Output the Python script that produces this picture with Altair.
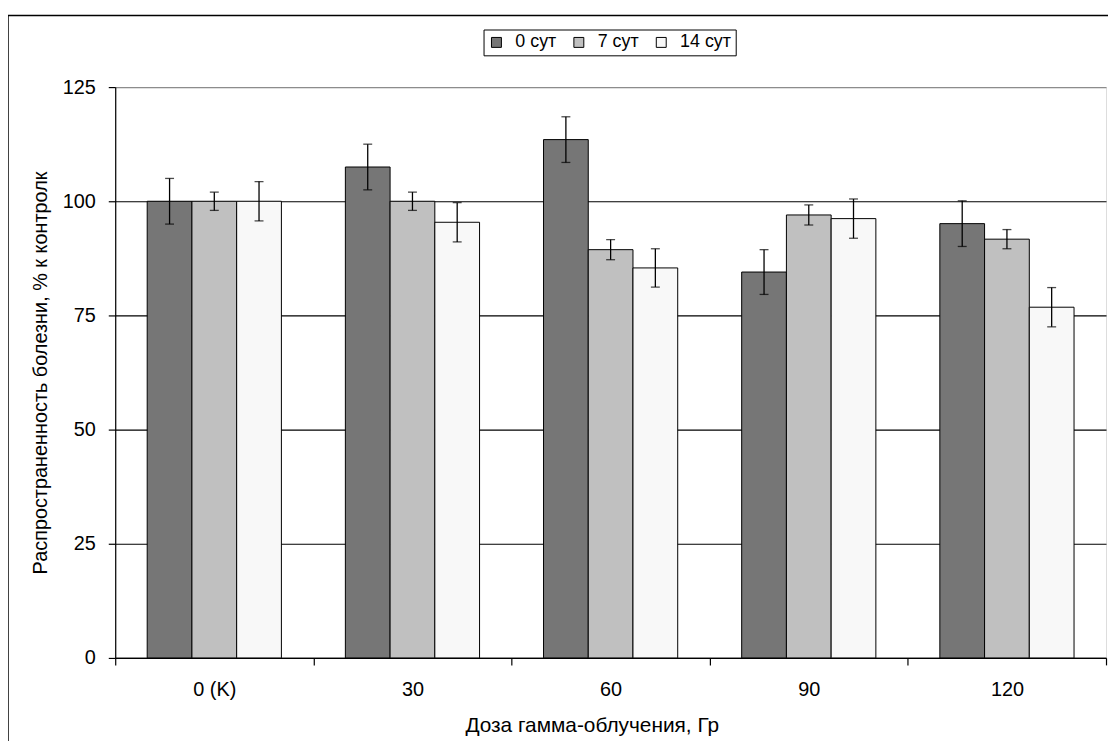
import altair as alt
import pandas as pd

# ---- data ----
categories = ["0 (K)", "30", "60", "90", "120"]
series = ["0 сут", "7 сут", "14 сут"]
values_0 = [100.0, 107.5, 113.5, 84.5, 95.1]
values_7 = [100.0, 100.0, 89.4, 97.0, 91.7]
values_14 = [100.0, 95.4, 85.4, 96.2, 76.8]
err_0 = [5.0, 5.0, 5.0, 4.9, 5.0]
err_7 = [2.0, 2.0, 2.2, 2.2, 2.1]
err_14 = [4.3, 4.3, 4.2, 4.3, 4.3]
y_ticks = [0, 25, 50, 75, 100, 125]
colors = ["#767676", "#c0c0c0", "#f8f8f8"]

rows = []
for s, vals, errs in zip(series, [values_0, values_7, values_14], [err_0, err_7, err_14]):
    for c, v, e in zip(categories, vals, errs):
        rows.append({"dose": c, "series": s, "value": v, "lo": v - e, "hi": v + e})
df = pd.DataFrame(rows)

FONT = "Liberation Sans"
FS = 20
W, H = 998, 575

x_scale = alt.Scale(paddingInner=0, paddingOuter=0)
x_enc = alt.X(
    "dose:N", sort=categories, scale=x_scale,
    axis=alt.Axis(
        title="Доза гамма-облучения, Гр", labelAngle=0, tickBand="extent",
        labelFont=FONT, labelFontSize=FS, labelColor="black", labelPadding=15,
        tickColor="black", tickSize=7, tickWidth=1.2,
        domainColor="black", domainWidth=1.2,
        titleFont=FONT, titleFontSize=21, titleFontWeight="normal", titleColor="black",
        titleX=480, titleY=68, titleBaseline="middle", titleAlign="center",
        grid=False,
    ),
)
xo_enc = alt.XOffset("series:N", sort=series, scale=alt.Scale(paddingInner=0, paddingOuter=0.715))
y_scale = alt.Scale(domain=[0, 125], nice=False)
y_axis = alt.Axis(
    title="Распространенность болезни, % к контролк", values=y_ticks,
    labelFont=FONT, labelFontSize=FS, labelColor="black", labelPadding=13,
    tickColor="black", tickSize=7, tickWidth=1.2,
    domainColor="black", domainWidth=1.2,
    grid=True, gridWidth=1.2,
    gridColor={"condition": {"test": "datum.value === 125", "value": "#8c8c8c"}, "value": "black"},
    titleFont=FONT, titleFontSize=20, titleFontWeight="normal", titleColor="black",
    titleX=-75, titleY=H / 2, titleAngle=-90, titleAlign="center", titleBaseline="middle",
)

base = alt.Chart(df)

bars = base.mark_bar(stroke="black", strokeWidth=1).encode(
    x=x_enc,
    xOffset=xo_enc,
    y=alt.Y("value:Q", scale=y_scale, axis=y_axis),
    fill=alt.Fill(
        "series:N", sort=series,
        scale=alt.Scale(domain=series, range=colors),
        legend=alt.Legend(
            title=None, orient="none", legendX=371, legendY=-58, direction="horizontal",
            strokeColor="black", padding=4, symbolType="square", symbolSize=100,
            symbolStrokeColor="black", symbolStrokeWidth=1,
            labelFont=FONT, labelFontSize=18, labelColor="black",
            labelOffset=10, columnPadding=13,
        ),
    ),
)

err_rule = base.mark_rule(color="black", strokeWidth=1.3).encode(
    x=alt.X("dose:N", sort=categories), xOffset=xo_enc,
    y=alt.Y("lo:Q", scale=y_scale), y2="hi:Q",
)
cap_lo = base.mark_tick(color="black", thickness=1.3, size=9, orient="horizontal").encode(
    x=alt.X("dose:N", sort=categories), xOffset=xo_enc, y=alt.Y("lo:Q", scale=y_scale),
)
cap_hi = base.mark_tick(color="black", thickness=1.3, size=9, orient="horizontal").encode(
    x=alt.X("dose:N", sort=categories), xOffset=xo_enc, y=alt.Y("hi:Q", scale=y_scale),
)

frame_df = pd.DataFrame({"k": [0]})
frame_left = alt.Chart(frame_df).mark_rule(color="black", strokeWidth=1.5, clip=False).encode(
    x=alt.value(-108), y=alt.value(-72), y2=alt.value(H + 120)
)
frame_top = alt.Chart(frame_df).mark_rule(color="black", strokeWidth=1.5, clip=False).encode(
    x=alt.value(-108), x2=alt.value(W + 40), y=alt.value(-72)
)

chart = alt.layer(bars, err_rule, cap_lo, cap_hi, frame_left, frame_top).properties(
    width=W, height=H,
    autosize=alt.AutoSizeParams(type="none"),
    padding={"left": 108, "top": 77, "right": 2, "bottom": 81},
).configure_view(stroke="#8c8c8c", strokeWidth=1.5).configure(background="white")

chart.save("out.html", embed_options={"renderer": "svg", "actions": False})
